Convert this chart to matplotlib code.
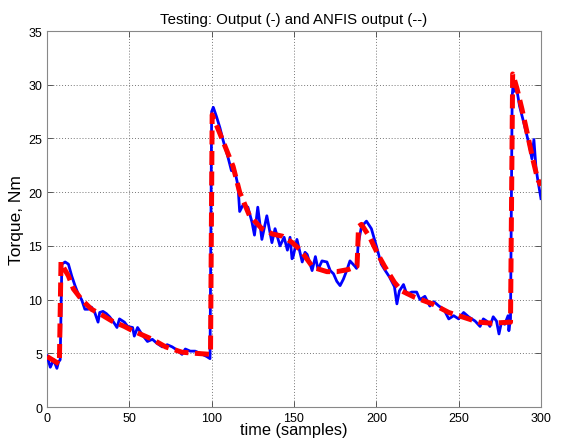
import matplotlib
matplotlib.use("Agg")
import matplotlib.pyplot as plt

# Measured output (blue, solid)
out_x = [0, 2, 4, 6, 7, 8, 9, 11, 13, 15, 17, 19, 21, 23, 25, 27, 29, 31, 32, 34, 36, 38,
         40, 42.5, 44, 47, 49, 52, 53, 55, 57.5, 61, 64, 67, 70, 73, 76, 78, 82, 84, 87, 90,
         93, 97, 99,
         100, 101, 103, 105, 107, 110, 112, 114, 116, 117, 119, 122, 124.5, 126, 128, 130.5,
         133.5, 136.6, 138.5, 141.5, 144, 146, 147.6, 148.8, 149.5, 151.8, 155, 156.7, 158,
         161, 163, 164.6, 167, 170, 172, 174, 176, 178, 180, 182, 184, 187, 188,
         189, 191, 194, 197, 200, 203, 205, 208, 211, 212.5, 214, 216.5, 218.5, 221.5,
         224.5, 226.5, 229.5, 232.5, 235, 238, 241, 244, 247, 250, 251, 253, 256, 258, 260,
         263, 265, 267, 269, 271, 273, 274.5, 276, 278, 280, 280.5, 281.5,
         282.5, 283, 283.6, 285.5, 287, 290, 293, 294.5, 295.7, 297, 298, 300]
out_y = [4.75, 3.7, 4.4, 3.6, 4.2, 4.4, 13.3, 13.5, 13.3, 12.2, 11.3, 10.5, 10.0, 9.1, 9.1,
         9.3, 8.8, 7.9, 8.8, 8.9, 8.7, 8.4, 8.0, 7.4, 8.2, 7.9, 7.5, 7.4, 6.6, 7.4, 6.8, 6.1,
         6.3, 5.9, 5.6, 5.8, 5.6, 5.4, 4.9, 5.4, 5.2, 5.2, 5.0, 4.7, 4.5,
         27.5, 27.9, 27.0, 26.0, 24.8, 23.2, 22.0, 22.0, 20.6, 18.2, 18.8, 18.6, 17.2, 16.0,
         18.6, 15.6, 17.8, 15.3, 16.6, 15.0, 15.8, 14.6, 15.8, 13.8, 14.0, 15.6, 13.5, 14.4,
         14.2, 12.7, 14.0, 12.8, 13.6, 13.5, 12.7, 12.4, 11.7, 11.3, 11.9, 12.7, 13.6, 13.1,
         12.9, 15.2, 16.8, 17.3, 16.6, 15.0, 13.3, 12.8, 12.1, 11.2, 9.6, 10.8, 11.4, 10.5,
         10.7, 10.7, 10.0, 10.3, 9.4, 9.8, 9.4, 9.1, 8.2, 8.5, 8.2, 8.4, 8.8, 8.4, 8.2, 8.0,
         7.5, 8.2, 8.0, 7.5, 8.4, 8.0, 6.8, 7.9, 7.7, 8.5, 7.1, 8.2,
         28.9, 29.9, 29.4, 29.4, 28.0, 26.2, 24.3, 23.1, 24.9, 22.2, 21.2, 19.4]

# ANFIS output (red, dashed)
anfis_x = [0, 7.5, 8.5, 10, 13, 16, 21, 27, 33, 39.5, 47, 52, 58, 64, 72, 82, 90, 99.3,
           100.3, 103, 107, 113, 117, 123, 130.5, 137, 143, 149, 154, 161.5, 170, 176, 183,
           188.3, 189.2, 191, 196, 201, 205, 211, 215.5, 223.5, 234, 244, 252, 262, 270,
           281.5, 282.8, 283.3, 285.5, 288.5, 291.5, 295, 298, 300]
anfis_y = [4.7, 4.0, 13.5, 13.0, 12.2, 11.0, 10.0, 9.1, 8.6, 8.0, 7.5, 7.1, 6.7, 6.3, 5.6,
           5.1, 5.0, 4.9,
           27.2, 26.2, 24.7, 22.4, 20.0, 17.8, 16.6, 16.1, 15.9, 15.3, 14.6, 13.0, 12.6, 12.6,
           12.8, 13.1, 16.8, 17.0, 15.8, 14.2, 13.1, 11.6, 10.8, 10.2, 9.6, 8.8, 8.4, 7.9, 7.8,
           7.9, 31.0, 30.8, 29.6, 27.7, 25.6, 23.1, 21.2, 20.6]

xticks = [0, 50, 100, 150, 200, 250, 300]
yticks = [0, 5, 10, 15, 20, 25, 30, 35]

plt.rcParams['font.family'] = ['Liberation Sans', 'DejaVu Sans']

fig = plt.figure(figsize=(5.61, 4.39), dpi=100)
ax = fig.add_axes([0.0838, 0.0706, 0.8805, 0.8565])

ax.plot(out_x, out_y, color='#0000ff', lw=2.0, zorder=3)
ax.plot(anfis_x, anfis_y, color='#ff0000', lw=3.6, dashes=(2.8, 1.3), zorder=4)

ax.set_xlim(0, 300)
ax.set_ylim(0, 35)
ax.set_xticks(xticks)
ax.set_yticks(yticks)
ax.tick_params(direction='in', labelsize=9, length=4, top=True, right=True,
               width=0.6, color='#444444')
ax.grid(True, linestyle=(0, (1, 2)), color='#777777', lw=0.7)
for s in ax.spines.values():
    s.set_color('#888888')
    s.set_linewidth(0.8)

ax.set_title('Testing: Output (-) and ANFIS output (--)', fontsize=10.8, pad=6)
ax.set_xlabel('time (samples)', fontsize=11.8, labelpad=-1)
ax.set_ylabel('Torque, Nm', fontsize=12.5, labelpad=3)

fig.savefig('out.png', dpi=100)
